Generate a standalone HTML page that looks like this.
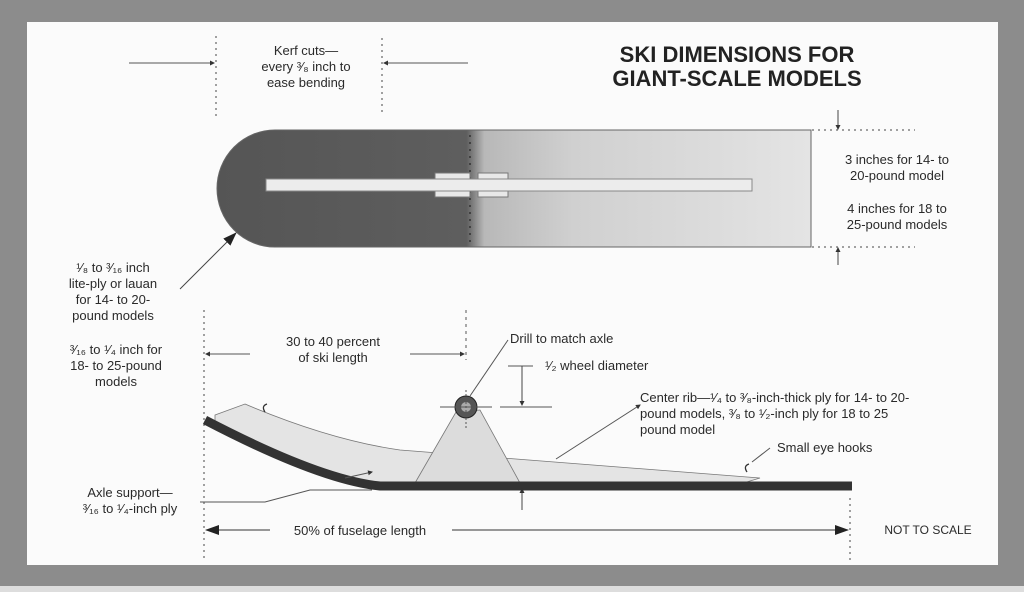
<!DOCTYPE html>
<html><head><meta charset="utf-8"><style>
html,body{margin:0;padding:0;background:#8c8c8c;}
svg{display:block}
text{font-family:"Liberation Sans",sans-serif;fill:#2a2a2a;}
</style></head><body>
<svg width="1024" height="592" viewBox="0 0 1024 592" xmlns="http://www.w3.org/2000/svg">
<defs>
<linearGradient id="sk" x1="0" x2="1" y1="0" y2="0">
<stop offset="0" stop-color="#555"/>
<stop offset="0.42" stop-color="#5e5e5e"/>
<stop offset="0.45" stop-color="#b8b8b8"/>
<stop offset="0.6" stop-color="#d0d0d0"/>
<stop offset="1" stop-color="#e4e4e4"/>
</linearGradient>
<marker id="a" markerWidth="8" markerHeight="8" refX="7" refY="4" orient="auto"><path d="M0,1 L8,4 L0,7z" fill="#222"/></marker>
<marker id="b" markerWidth="14" markerHeight="10" refX="13" refY="5" orient="auto"><path d="M0,0 L14,5 L0,10z" fill="#222"/></marker>
<marker id="c" markerWidth="5" markerHeight="5" refX="4" refY="2.5" orient="auto"><path d="M0,0 L5,2.5 L0,5z" fill="#333"/></marker>
</defs>
<rect x="0" y="0" width="1024" height="592" fill="#8c8c8c"/>
<rect x="0" y="586" width="1024" height="6" fill="#ddd"/>
<rect x="27" y="22" width="971" height="543" fill="#fbfbfb"/>

<text x="737" y="62" font-size="22" font-weight="bold" text-anchor="middle" style="fill:#222">SKI DIMENSIONS FOR</text>
<text x="737" y="86" font-size="22" font-weight="bold" text-anchor="middle" style="fill:#222">GIANT-SCALE MODELS</text>

<line x1="216" y1="36" x2="216" y2="118" stroke="#444" stroke-dasharray="2,4"/>
<line x1="382" y1="38" x2="382" y2="115" stroke="#444" stroke-dasharray="2,4"/>
<line x1="129" y1="63" x2="214" y2="63" stroke="#555" marker-end="url(#c)"/>
<line x1="468" y1="63" x2="384" y2="63" stroke="#555" marker-end="url(#c)"/>
<text x="306" y="55" font-size="13" text-anchor="middle">Kerf cuts—</text>
<text x="306" y="71" font-size="13" text-anchor="middle">every ³⁄₈ inch to</text>
<text x="306" y="87" font-size="13" text-anchor="middle">ease bending</text>

<path d="M275,130 L811,130 L811,247 L275,247 A58,58.5 0 0 1 275,130z" fill="url(#sk)" stroke="#666"/>
<line x1="470" y1="135" x2="470" y2="245" stroke="#333" stroke-dasharray="2,5" stroke-width="1.5"/>
<rect x="435" y="173" width="35" height="24" fill="#e8e8e8" stroke="#777"/>
<rect x="478" y="173" width="30" height="24" fill="#e8e8e8" stroke="#777"/>
<rect x="266" y="179" width="486" height="12" fill="#ececec" stroke="#888"/>

<line x1="812" y1="130" x2="915" y2="130" stroke="#444" stroke-dasharray="2,4"/>
<line x1="812" y1="247" x2="915" y2="247" stroke="#444" stroke-dasharray="2,4"/>
<line x1="838" y1="110" x2="838" y2="129" stroke="#444" marker-end="url(#c)"/>
<line x1="838" y1="265" x2="838" y2="248" stroke="#444" marker-end="url(#c)"/>
<text x="897" y="164" font-size="13" text-anchor="middle">3 inches for 14- to</text>
<text x="897" y="180" font-size="13" text-anchor="middle">20-pound model</text>
<text x="897" y="213" font-size="13" text-anchor="middle">4 inches for 18 to</text>
<text x="897" y="229" font-size="13" text-anchor="middle">25-pound models</text>

<line x1="180" y1="289" x2="236" y2="233" stroke="#444" marker-end="url(#b)"/>
<text x="113" y="272" font-size="13" text-anchor="middle">¹⁄₈ to ³⁄₁₆ inch</text>
<text x="113" y="288" font-size="13" text-anchor="middle">lite-ply or lauan</text>
<text x="113" y="304" font-size="13" text-anchor="middle">for 14- to 20-</text>
<text x="113" y="320" font-size="13" text-anchor="middle">pound models</text>
<text x="116" y="354" font-size="13" text-anchor="middle">³⁄₁₆ to ¹⁄₄ inch for</text>
<text x="116" y="370" font-size="13" text-anchor="middle">18- to 25-pound</text>
<text x="116" y="386" font-size="13" text-anchor="middle">models</text>
<text x="130" y="497" font-size="13" text-anchor="middle">Axle support—</text>
<text x="130" y="513" font-size="13" text-anchor="middle">³⁄₁₆ to ¹⁄₄-inch ply</text>

<line x1="204" y1="310" x2="204" y2="560" stroke="#444" stroke-dasharray="2,4"/>
<line x1="850" y1="498" x2="850" y2="560" stroke="#444" stroke-dasharray="2,4"/>
<line x1="466" y1="310" x2="466" y2="360" stroke="#555" stroke-dasharray="3,4"/>
<line x1="250" y1="354" x2="206" y2="354" stroke="#555" marker-end="url(#c)"/>
<line x1="410" y1="354" x2="464" y2="354" stroke="#555" marker-end="url(#c)"/>
<text x="333" y="346" font-size="13" text-anchor="middle">30 to 40 percent</text>
<text x="333" y="362" font-size="13" text-anchor="middle">of ski length</text>
<line x1="270" y1="530" x2="206" y2="530" stroke="#333" marker-end="url(#b)"/>
<line x1="452" y1="530" x2="848" y2="530" stroke="#333" marker-end="url(#b)"/>
<text x="360" y="535" font-size="13" text-anchor="middle">50% of fuselage length</text>
<text x="928" y="534" font-size="12" text-anchor="middle">NOT TO SCALE</text>

<path d="M215,415 L245,404 Q330,440 400,450 Q500,458 760,478 L740,484 L380,484 Q300,470 215,422z" fill="#e4e4e4" stroke="#777" stroke-width="0.8"/>
<path d="M415,483 L456,412 L480,410 L520,483z" fill="#dcdcdc" stroke="#777" stroke-width="0.8"/>
<path d="M205,420 Q320,480 380,486 L852,486" fill="none" stroke="#333" stroke-width="9"/>
<circle cx="466" cy="407" r="11" fill="#555" stroke="#222"/>
<circle cx="466" cy="407" r="5" fill="#aaa"/>
<line x1="440" y1="407" x2="492" y2="407" stroke="#555"/>
<line x1="466" y1="390" x2="466" y2="430" stroke="#555" stroke-dasharray="2,2"/>
<path d="M265,412 q-4,-6 2,-8" fill="none" stroke="#333" stroke-width="1.3"/>
<path d="M747,472 q-4,-6 2,-8" fill="none" stroke="#333" stroke-width="1.3"/>

<line x1="470" y1="396" x2="508" y2="340" stroke="#555"/>
<text x="510" y="343" font-size="13">Drill to match axle</text>
<line x1="508" y1="366" x2="533" y2="366" stroke="#555"/>
<line x1="522" y1="366" x2="522" y2="405" stroke="#444" marker-end="url(#c)"/>
<line x1="500" y1="407" x2="552" y2="407" stroke="#555"/>
<line x1="522" y1="510" x2="522" y2="489" stroke="#444" marker-end="url(#c)"/>
<text x="545" y="370" font-size="13">¹⁄₂ wheel diameter</text>
<line x1="556" y1="459" x2="640" y2="405" stroke="#555" marker-end="url(#c)"/>
<text x="640" y="402" font-size="13">Center rib—¹⁄₄ to ³⁄₈-inch-thick ply for 14- to 20-</text>
<text x="640" y="418" font-size="13">pound models, ³⁄₈ to ¹⁄₂-inch ply for 18 to 25</text>
<text x="640" y="434" font-size="13">pound model</text>
<line x1="752" y1="462" x2="770" y2="448" stroke="#555"/>
<text x="777" y="452" font-size="13">Small eye hooks</text>
<polyline points="200,502 265,502 310,490 372,490" fill="none" stroke="#555"/>
<line x1="345" y1="478" x2="372" y2="472" stroke="#555" marker-end="url(#c)"/>
</svg>
</body></html>
